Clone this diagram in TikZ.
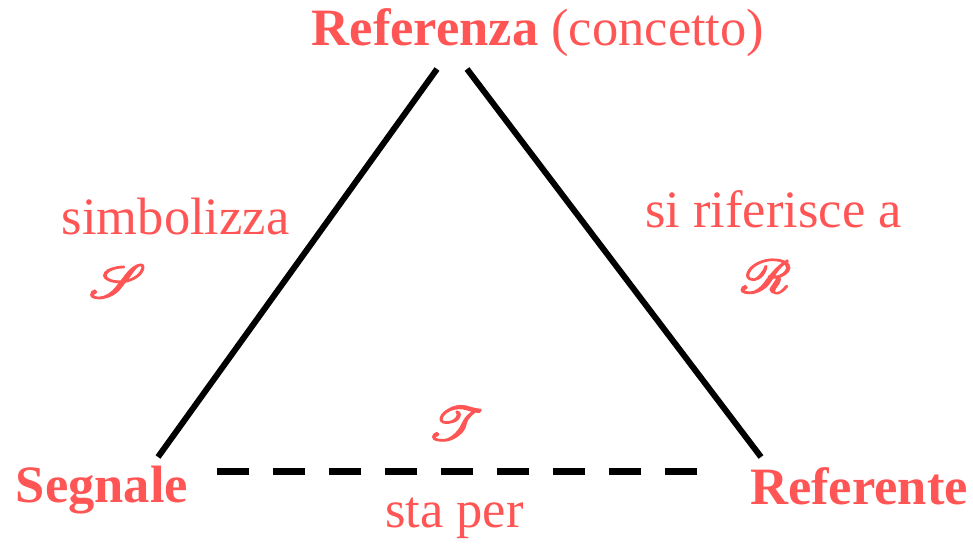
\documentclass[tikz,border=0pt]{standalone}
\usepackage{fontspec}
\setmainfont{Liberation Serif}
\usepackage{mathrsfs}
\definecolor{lab}{RGB}{255,85,85}
\newcommand{\heavyscr}[1]{\special{pdf:literal direct 2 Tr 0.12 w}$\mathscr{#1}$\special{pdf:literal direct 0 Tr}}
\begin{document}
\begin{tikzpicture}[x=1pt,y=-1pt,
  lbl/.style={text=lab,font=\fontsize{52.5}{60}\selectfont,inner sep=0pt,anchor=base west},
  sym/.style={text=lab,font=\tiny,inner sep=0pt,anchor=center,scale=9.4},
  edge/.style={line width=6pt,line cap=butt,black},
  dashedge/.style={line width=7pt,line cap=butt,black,dash pattern=on 32pt off 24pt}]
\useasboundingbox (0,0) rectangle (973,543);
% labels
\node[lbl] (referenza) at (311.7,45.7) {\textbf{Referenza} (concetto)};
\node[lbl] (segnale) at (15.7,502.7) {\textbf{Segnale}};
\node[lbl] (referente) at (750,504.3) {\textbf{Referente}};
\node[lbl] (simb) at (61.7,234) {simbolizza};
\node[lbl] (rif) at (645,227.7) {si riferisce a};
\node[lbl] (staper) at (385,527.7) {sta per};
\node[sym] (S) at (117.4,281) {\heavyscr{S}};
\node[sym] (R) at (766,276.5) {\heavyscr{R}};
\node[sym] (T) at (455,423.4) {\heavyscr{T}};
% line ends
\coordinate (sL) at (158,457);
\coordinate (tL) at (437,69);
\coordinate (tR) at (467,69);
\coordinate (rR) at (761,457);
\coordinate (dL) at (216.7,471.7);
\coordinate (dR) at (696.7,471.7);
\draw[edge] (sL) -- (tL);
\draw[edge] (tR) -- (rR);
\draw[dashedge] (dL) -- (dR);
\end{tikzpicture}
\end{document}
